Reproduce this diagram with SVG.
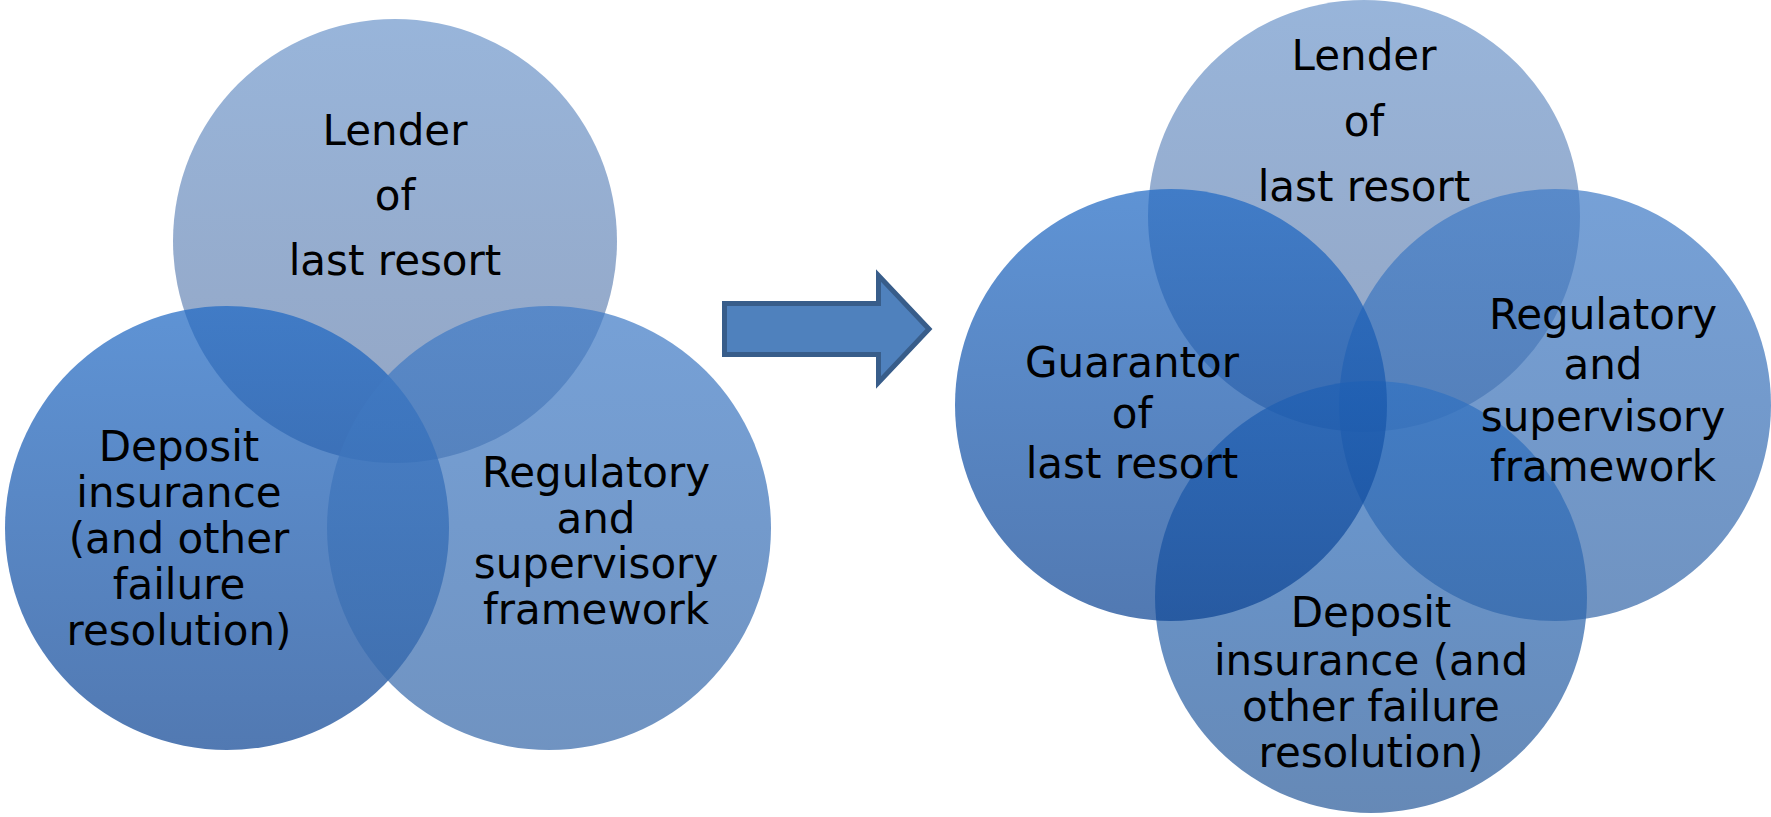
<svg xmlns="http://www.w3.org/2000/svg" width="1771" height="817" viewBox="0 0 1771 817">
  <style>
    .lbl { font-family: "DejaVu Sans", Verdana, sans-serif; font-size: 42px; fill: #000; text-anchor: middle; }
    .venn { opacity: 0.72; }
  </style>
  <defs>
    <linearGradient id="gTop" x1="0" y1="0" x2="0" y2="1">
      <stop offset="0" stop-color="#7098cc"/>
      <stop offset="1" stop-color="#6982ac"/>
    </linearGradient>
    <linearGradient id="gLeft" x1="0" y1="0" x2="0" y2="1">
      <stop offset="0" stop-color="#2069c4"/>
      <stop offset="1" stop-color="#0e4594"/>
    </linearGradient>
    <linearGradient id="gRight" x1="0" y1="0" x2="0" y2="1">
      <stop offset="0" stop-color="#417cc7"/>
      <stop offset="1" stop-color="#3869a9"/>
    </linearGradient>
    <linearGradient id="gBottom" x1="0" y1="0" x2="0" y2="1">
      <stop offset="0" stop-color="#3172c2"/>
      <stop offset="1" stop-color="#2a5b9a"/>
    </linearGradient>
  </defs>
  <rect width="1771" height="817" fill="#ffffff"/>

  <!-- Three-circle Venn -->
  <g id="left-lender">
    <circle class="venn" cx="395" cy="241" r="222" fill="url(#gTop)"/>
  </g>
  <g id="left-deposit">
    <circle class="venn" cx="227" cy="528" r="222" fill="url(#gLeft)"/>
  </g>
  <g id="left-regulatory">
    <circle class="venn" cx="549" cy="528" r="222" fill="url(#gRight)"/>
  </g>
  <g id="left-labels">
    <text class="lbl" x="395" y="145">Lender</text>
    <text class="lbl" x="395" y="210">of</text>
    <text class="lbl" x="395" y="275">last resort</text>
    <text class="lbl" x="179" y="461">Deposit</text>
    <text class="lbl" x="179" y="507">insurance</text>
    <text class="lbl" x="179" y="553">(and other</text>
    <text class="lbl" x="179" y="599">failure</text>
    <text class="lbl" x="179" y="645">resolution)</text>
    <text class="lbl" x="596" y="487">Regulatory</text>
    <text class="lbl" x="596" y="533">and</text>
    <text class="lbl" x="596" y="578">supervisory</text>
    <text class="lbl" x="596" y="624">framework</text>
  </g>

  <!-- Transition arrow -->
  <g id="connectors">
    <path d="M724.5,303.5 H878.5 V275.5 L929,329 L878.5,382.5 V354.5 H724.5 Z" fill="#4f81bd" stroke="#385d8a" stroke-width="5" stroke-linejoin="miter"/>
  </g>

  <!-- Four-circle Venn -->
  <g id="right-lender">
    <circle class="venn" cx="1364" cy="216" r="216" fill="url(#gTop)"/>
  </g>
  <g id="right-regulatory">
    <circle class="venn" cx="1555" cy="405" r="216" fill="url(#gRight)"/>
  </g>
  <g id="right-deposit">
    <circle class="venn" cx="1371" cy="597" r="216" fill="url(#gBottom)"/>
  </g>
  <g id="right-guarantor">
    <circle class="venn" cx="1171" cy="405" r="216" fill="url(#gLeft)"/>
  </g>
  <g id="right-labels">
    <text class="lbl" x="1364" y="70">Lender</text>
    <text class="lbl" x="1364" y="136">of</text>
    <text class="lbl" x="1364" y="201">last resort</text>
    <text class="lbl" x="1132" y="377">Guarantor</text>
    <text class="lbl" x="1132" y="428">of</text>
    <text class="lbl" x="1132" y="478">last resort</text>
    <text class="lbl" x="1603" y="329">Regulatory</text>
    <text class="lbl" x="1603" y="379">and</text>
    <text class="lbl" x="1603" y="431">supervisory</text>
    <text class="lbl" x="1603" y="481">framework</text>
    <text class="lbl" x="1371" y="627">Deposit</text>
    <text class="lbl" x="1371" y="675">insurance (and</text>
    <text class="lbl" x="1371" y="721">other failure</text>
    <text class="lbl" x="1371" y="767">resolution)</text>
  </g>
</svg>
